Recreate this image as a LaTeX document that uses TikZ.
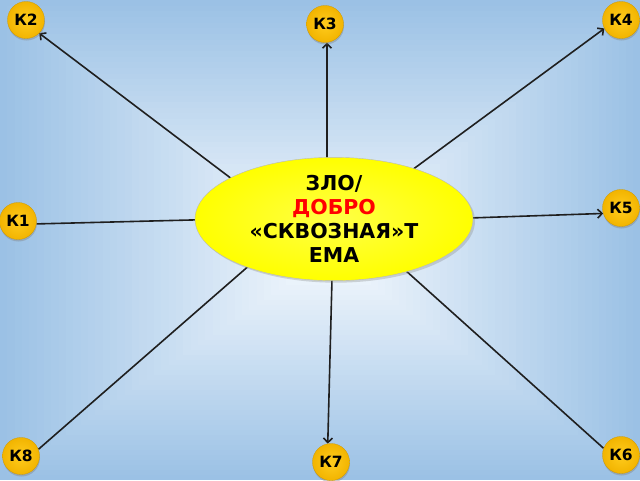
\documentclass[tikz,border=0pt]{standalone}
\usepackage{fontspec}
\setmainfont{DejaVu Sans}
\usetikzlibrary{arrows.meta,shadows,shapes.geometric}
\pgfdeclarelayer{bgl}
\pgfdeclarelayer{lns}
\pgfsetlayers{bgl,lns,main}
\definecolor{bgout}{RGB}{155,193,229}
\definecolor{bgin}{RGB}{246,250,254}
\definecolor{goldin}{RGB}{255,204,30}
\definecolor{goldout}{RGB}{242,180,0}
\definecolor{yin}{RGB}{255,255,70}
\definecolor{yout}{RGB}{255,255,0}
\definecolor{ddred}{RGB}{255,0,0}
\begin{document}
\begin{tikzpicture}[x=1pt,y=-1pt,
  kc/.style={circle, minimum size=37pt, inner sep=0pt, shade, inner color=goldin, outer color=goldout,
    draw=goldout!85!black, line width=0.3pt,
    drop shadow={opacity=0.4, shadow xshift=0.5pt, shadow yshift=-2pt},
    font=\bfseries\fontsize{15.5}{17}\selectfont},
  ell/.style={ellipse, minimum width=278pt, minimum height=112pt, inner sep=0pt, shade,
    inner color=yin, outer color=yout, draw=gray!55, line width=0.4pt,
    drop shadow={opacity=0.3, shadow xshift=2pt, shadow yshift=-2pt},
    align=center, font=\bfseries\fontsize{20.5}{24}\selectfont},
  con/.style={line width=1.6pt, draw=black!88},
  arr/.style={con, -{Straight Barb[length=4.5pt,width=9pt]}}]
\useasboundingbox (0,0) rectangle (640,480);
\begin{pgfonlayer}{bgl}
  \foreach \i in {0,...,44}{
    \pgfmathsetmacro\t{\i/45}
    \pgfmathsetmacro\p{100*\t}
    \fill[bgin!\p!bgout] (\t*330,\t*255) rectangle (640-\t*310,480-\t*225);
  }
\end{pgfonlayer}
\node[ell] (e) at (334,219) {ЗЛО/\\{\color{ddred}ДОБРО}\\«СКВОЗНАЯ»Т\\ЕМА};
\node[kc] (k1) at (18,221) {К1};
\node[kc] (k2) at (26,20) {К2};
\node[kc] (k3) at (325,24) {К3};
\node[kc] (k4) at (621,20) {К4};
\node[kc] (k5) at (621,208) {К5};
\node[kc] (k6) at (621,455) {К6};
\node[kc] (k7) at (331,462) {К7};
\node[kc] (k8) at (21,456) {К8};
\coordinate (s1) at (230,219);
\coordinate (s2) at (257,198);
\coordinate (s3) at (327,200);
\coordinate (s4) at (374,198);
\coordinate (s5) at (440,219);
\coordinate (s6) at (375,243);
\coordinate (s7) at (333,240);
\coordinate (s8) at (275,243);
\begin{pgfonlayer}{lns}
  \draw[con] (s1) -- (k1.-9);
  \draw[arr] (s2) -- (k2.-45);
  \draw[arr] (s3) -- (k3.-84);
  \draw[arr] (s4) -- (k4.207);
  \draw[arr] (s5) -- (k5.197);
  \draw[con] (s6) -- (k6.159);
  \draw[arr] (s7) -- (k7.100);
  \draw[con] (s8) -- (k8.21);
\end{pgfonlayer}
\end{tikzpicture}
\end{document}
